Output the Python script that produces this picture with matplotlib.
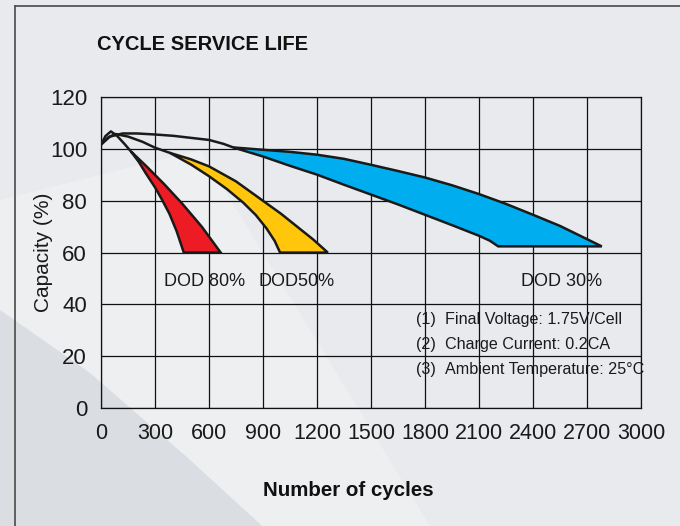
import matplotlib
matplotlib.use('Agg')
import matplotlib.pyplot as plt
import numpy as np
from matplotlib.patches import Polygon
from matplotlib.lines import Line2D

# ---- data ----
# stems: the black lines before each band opens up
red_stem_x = [0, 25, 55, 90, 130, 167]
red_stem_y = [101.7, 105, 106.8, 105, 102, 99]
yel_stem_x = [0, 40, 80, 150, 230, 300, 383]
yel_stem_y = [101.7, 104.5, 105.8, 104.8, 102.8, 100.5, 98.5]
top_x = [0, 50, 120, 200, 300, 400, 500, 600, 680, 735]
top_y = [101.7, 104.8, 106, 106, 105.6, 105.1, 104.3, 103.5, 102, 100.6]

# DOD 80% band
red_left_x = [167, 210, 250, 300, 340, 380, 420, 460]
red_left_y = [99, 95, 90.5, 85.2, 80.3, 75, 68.3, 60]
red_right_x = [167, 250, 350, 450, 560, 665]
red_right_y = [99, 93.5, 86.5, 79, 70, 60]

# DOD 50% band
yel_left_x = [383, 500, 600, 700, 790, 860, 920, 965, 995]
yel_left_y = [98.5, 94, 89.5, 84.5, 79.3, 74.5, 69.3, 64.5, 60]
yel_right_x = [383, 500, 600, 750, 900, 1000, 1090, 1180, 1260]
yel_right_y = [98.5, 96, 93.3, 87.5, 80, 75, 70, 65, 60]

# DOD 30% band
blue_up_x = [735, 900, 1050, 1200, 1350, 1500, 1650, 1800, 1950, 2100, 2250, 2400, 2550, 2700, 2782]
blue_up_y = [100.6, 99.7, 98.9, 97.8, 96.2, 93.9, 91.5, 89, 86, 82.6, 78.8, 74.6, 70.3, 65.2, 62.4]
blue_lo_x = [735, 900, 1050, 1200, 1350, 1500, 1650, 1800, 1950, 2100, 2160, 2207]
blue_lo_y = [100.6, 97.1, 93.5, 90.1, 86.2, 82.4, 78.6, 74.6, 70.6, 66.5, 64.6, 62.4]

xticks = [0, 300, 600, 900, 1200, 1500, 1800, 2100, 2400, 2700, 3000]
yticks = [0, 20, 40, 60, 80, 100, 120]

band_labels = ['DOD 80%', 'DOD50%', 'DOD 30%']
band_label_x = [575, 1089, 2556]
notes_num = ['(1)', '(2)', '(3)']
notes_txt = ['Final Voltage: 1.75V/Cell', 'Charge Current: 0.2CA', 'Ambient Temperature: 25°C']

colred = '#ED1C24'
colyel = '#FFC60B'
colblue = '#00AEEF'
ink = '#1a1a1a'

fnt = 'Liberation Sans'

fig = plt.figure(figsize=(6.8, 5.26), dpi=100)
fig.patch.set_facecolor('#E8EAED')

# background shading (lower left darker wedge, lighter band next to it)
W, H = 680.0, 526.0
def fpts(pts):
    return [(x / W, 1 - y / H) for x, y in pts]
fig.patches.append(Polygon(fpts([(0, 200), (200, 150), (430, 526), (262, 526), (190, 460), (90, 373), (0, 310)]),
                           closed=True, transform=fig.transFigure, fc='#EDEFF1', ec='none', zorder=-9))
fig.patches.append(Polygon(fpts([(0, 310), (90, 373), (190, 460), (262, 526), (0, 526)]), closed=True,
                           transform=fig.transFigure, fc='#DADEE3', ec='none', zorder=-8))
# frame lines
fig.add_artist(Line2D([14.5 / W, 14.5 / W], [0, 1 - 6 / H], transform=fig.transFigure, color='#4a4a4a', lw=1.2))
fig.add_artist(Line2D([14.5 / W, 1], [1 - 6 / H, 1 - 6 / H], transform=fig.transFigure, color='#4a4a4a', lw=1.2))

ax = fig.add_axes([101 / W, 1 - 408 / H, 540 / W, 310.8 / H])
ax.patch.set_alpha(0)
ax.set_xlim(0, 3000)
ax.set_ylim(0, 120)
ax.set_xticks(xticks)
ax.set_yticks(yticks)
ax.grid(True, color='#111111', lw=0.9)
ax.set_axisbelow(True)
for s in ax.spines.values():
    s.set_color('#111111')
    s.set_linewidth(0.9)
ax.tick_params(length=0, labelcolor=ink)
ax.tick_params(axis='x', pad=11, labelsize=15.5)
ax.tick_params(axis='y', pad=10, labelsize=16)
for lab in ax.get_xticklabels() + ax.get_yticklabels():
    lab.set_family(fnt)

lw = 1.8
# stems
ax.plot(top_x, top_y, color=ink, lw=lw, zorder=3)
ax.plot(yel_stem_x, yel_stem_y, color=ink, lw=lw, zorder=3)
ax.plot(red_stem_x, red_stem_y, color=ink, lw=lw, zorder=3)

def band(xa, ya, xb, yb, col):
    pts = list(zip(xa, ya)) + list(zip(xb[::-1], yb[::-1]))
    pg = Polygon(pts, closed=True, fc=col, ec=ink, lw=lw, joinstyle='miter', zorder=4)
    ax.add_patch(pg)

band(red_left_x, red_left_y, red_right_x, red_right_y, colred)
band(yel_left_x, yel_left_y, yel_right_x, yel_right_y, colyel)
band(blue_lo_x + [blue_up_x[-1]], blue_lo_y + [blue_up_y[-1]], blue_up_x, blue_up_y, colblue)

for lab, xp in zip(band_labels, band_label_x):
    ax.text(xp, 48.8, lab, ha='center', va='center', fontsize=13, family=fnt, color=ink)

for i, (n, t) in enumerate(zip(notes_num, notes_txt)):
    yy = 34.1 - 9.65 * i
    ax.text(1750, yy, n, ha='left', va='center', fontsize=11.6, family=fnt, color=ink)
    ax.text(1911, yy, t, ha='left', va='center', fontsize=11.6, family=fnt, color=ink)

ax.set_ylabel('Capacity (%)', fontsize=15, family=fnt, color=ink)
ax.yaxis.set_label_coords(-0.088, 0.5)

fig.text(97 / W, 1 - 45 / H, 'CYCLE SERVICE LIFE', fontsize=14.5, fontweight='bold',
         family=fnt, ha='left', va='center', color='#111111')
fig.text(348 / W, 1 - 491 / H, 'Number of cycles', fontsize=14.8, fontweight='bold',
         family=fnt, ha='center', va='center', color='#111111')

fig.savefig('out.png', dpi=100, facecolor=fig.get_facecolor())
